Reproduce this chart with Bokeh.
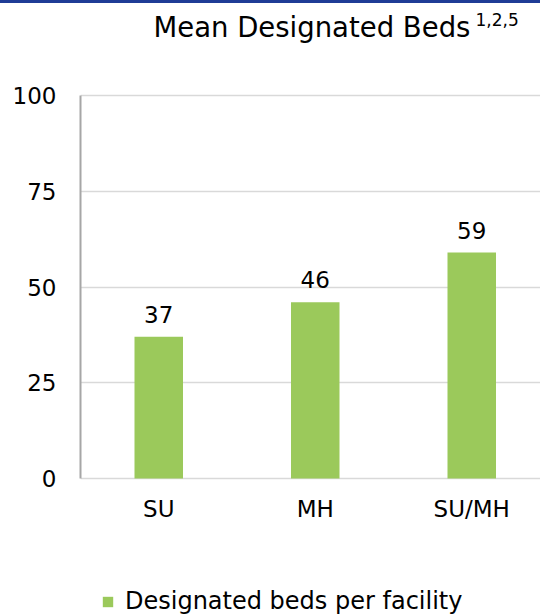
from bokeh.plotting import figure
from bokeh.models import (Range1d, FixedTicker, Label, LabelSet, Legend, LegendItem,
                          Div, ColumnDataSource)
from bokeh.layouts import column
from bokeh.embed import file_html
from bokeh.resources import INLINE
from bokeh.core.properties import value

# ---- data ----
categories = ["SU", "MH", "SU/MH"]
beds = [37, 46, 59]
series_name = "Designated beds per facility"
y_ticks = [0, 25, 50, 75, 100]
title_text = "Mean Designated Beds"
title_sup = "1,2,5"

FONT = "DejaVu Sans"
GREEN = "#9BC95B"
TXT = "#000000"

# page-pixel geometry (blue rule 0..3, figure starts at y=3)
TOP = 3
FIG_W, FIG_H = 540, 612
FRAME_L, FRAME_R, Y100, Y0 = 80, 540, 95, 478
STEP = 156.5
X0 = -0.5
def px2x(px):
    return X0 + (px - FRAME_L) / STEP
def py2y(py):
    return (Y0 - py) * 100.0 / (Y0 - Y100)

x_idx = list(range(len(categories)))
src = ColumnDataSource(dict(x=x_idx, beds=beds, lbl=[str(v) for v in beds]))

p = figure(width=FIG_W, height=FIG_H, output_backend="svg", toolbar_location=None,
           x_range=Range1d(X0, px2x(FRAME_R)),
           y_range=Range1d(py2y(TOP + FIG_H), py2y(TOP)),
           min_border_left=FRAME_L, min_border_right=0,
           min_border_top=0, min_border_bottom=0,
           title=None)
p.outline_line_color = None
p.background_fill_color = "white"
p.border_fill_color = "white"

bars = p.vbar(x="x", top="beds", width=0.31, source=src, fill_color=GREEN, line_color=None)
p.add_layout(LabelSet(x="x", y="beds", text="lbl", source=src, text_align="center",
                      text_baseline="alphabetic", y_offset=14, text_font=value(FONT),
                      text_font_size=value("23px"), text_color=TXT))

# y axis (line limited to the 0..100 scale)
p.yaxis.ticker = FixedTicker(ticks=y_ticks)
p.yaxis.bounds = (y_ticks[0], y_ticks[-1])
p.yaxis.major_label_text_font = FONT
p.yaxis.major_label_text_font_size = "23px"
p.yaxis.major_label_text_color = TXT
p.yaxis.axis_line_color = "#A6A6A6"
p.yaxis.axis_line_width = 2
p.yaxis.major_tick_out = 0
p.yaxis.major_tick_in = 0
p.yaxis.minor_tick_out = 0
p.yaxis.minor_tick_in = 0
p.yaxis.major_label_standoff = 24

# x axis pinned at y = 0
p.xaxis.fixed_location = y_ticks[0]
p.xaxis.ticker = FixedTicker(ticks=x_idx)
p.xaxis.major_label_overrides = {i: c for i, c in zip(x_idx, categories)}
p.xaxis.major_label_text_font = FONT
p.xaxis.major_label_text_font_size = "23px"
p.xaxis.major_label_text_color = TXT
p.xaxis.axis_line_color = None
p.xaxis.major_tick_out = 0
p.xaxis.major_tick_in = 0
p.xaxis.minor_tick_out = 0
p.xaxis.minor_tick_in = 0
p.xaxis.major_label_standoff = 17

p.xgrid.visible = False
p.ygrid.grid_line_color = "#D9D9D9"
p.ygrid.grid_line_width = 1.5

# title with superscript (anchor corrected for the renderer's baseline handling)
p.add_layout(Label(x=px2x(153), y=py2y(26.5), text=title_text, text_font=FONT,
                   text_font_size="27.5px", text_baseline="alphabetic", text_align="left",
                   text_color=TXT))
p.add_layout(Label(x=px2x(475), y=py2y(18.5), text=title_sup, text_font=FONT,
                   text_font_size="17px", text_baseline="alphabetic", text_align="left",
                   text_color=TXT))

legend = Legend(items=[LegendItem(label=series_name, renderers=[bars])],
                location=(21, 0), orientation="horizontal",
                border_line_color=None, background_fill_alpha=0,
                padding=0, margin=0, spacing=0,
                glyph_width=13, glyph_height=13, label_standoff=11,
                label_text_font=FONT, label_text_font_size="24px", label_text_color=TXT)
p.add_layout(legend)

bar_line = Div(text="", width=FIG_W, height=TOP, margin=0,
               styles={"background-color": "#1F3C96"})

layout = column(bar_line, p, spacing=0)
open("out.html", "w").write(file_html(layout, INLINE))
